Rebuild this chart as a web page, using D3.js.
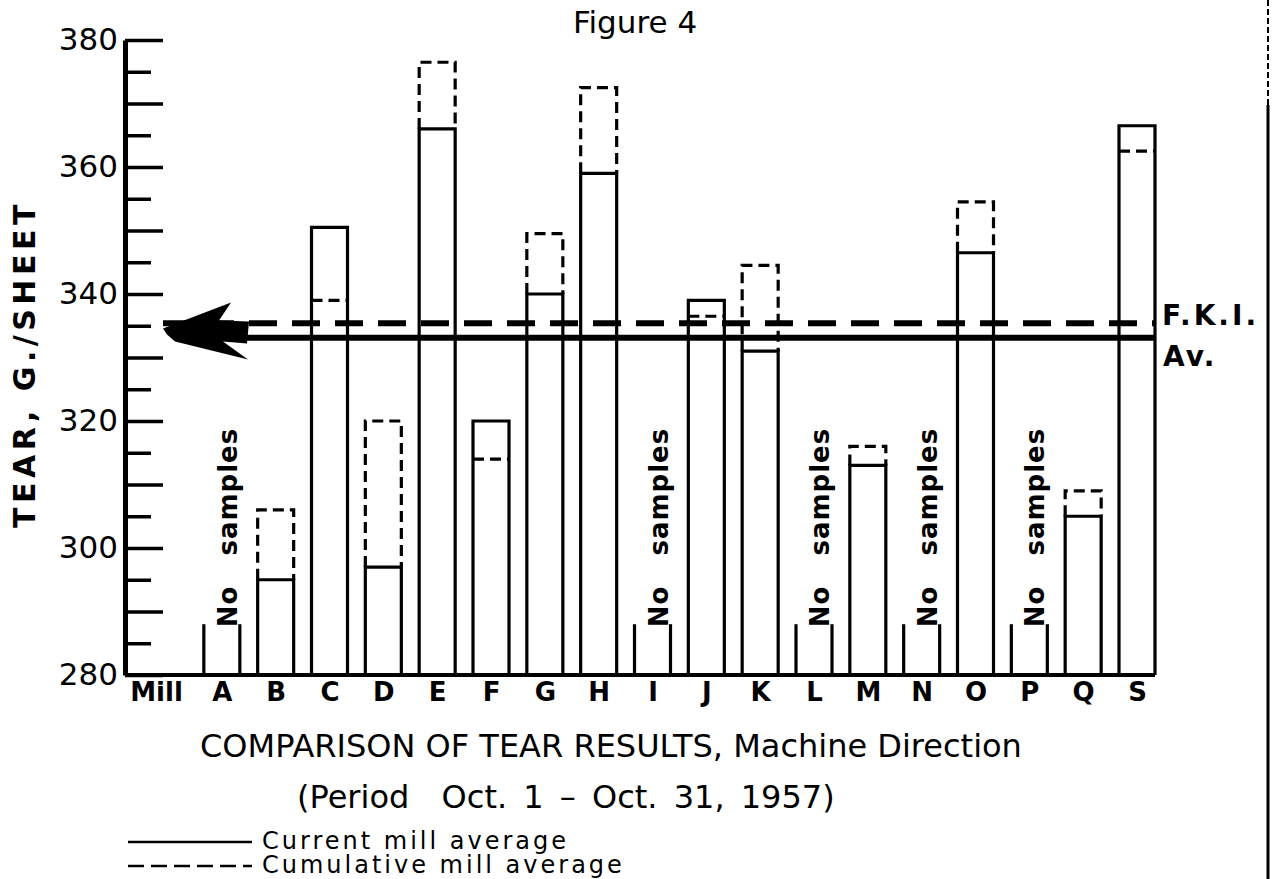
<!DOCTYPE html>
<html>
<head>
<meta charset="utf-8">
<script src="https://cdn.jsdelivr.net/npm/d3@7"></script>
<style>
  body { margin: 0; background: #fff; }
  svg { display: block; font-family: "DejaVu Sans", sans-serif; }
  text { fill: #000; }
</style>
</head>
<body>
<svg id="chart"></svg>
<script>
var mills = ["Mill","A","B","C","D","E","F","G","H","I","J","K","L","M","N","O","P","Q","S"];
var currentAvg    = [null, null, 295, 350.5, 297, 366, 320, 340, 359, null, 339, 331, null, 313, null, 346.5, null, 305, 366.5];
var cumulativeAvg = [null, null, 306, 339, 320, 376.5, 314, 349.5, 372.5, null, 336.5, 344.5, null, 316, null, 354.5, null, 309, 362.5];
var noSampleMills = ["A","I","L","N","P"];
var stubValue = 288;
var fkiNames  = ["cumulative","current"];
var fkiValues = [335.4, 333.1];
var yLabelTicks = [280,300,320,340,360,380];
var yMidTicks   = [290,310,330,350,370];
var yMinorTicks = [285,295,305,315,325,335,345,355,365,375];

var width=1273;
var height=879;
var axisX=125;
var axisRight=1155;
var barW=36;

var svg=d3.select("#chart")
  .attr("width",width)
  .attr("height",height);

// scales
var yScale=d3.scaleLinear()
             .domain([280,380])
             .range([675,40]);

var xScale=d3.scalePoint()
             .domain(mills)
             .range([168,1137]);

var base=yScale(280);

// Y axis: labelled ticks, unlabelled 10s, short 5s
var yAxis=d3.axisLeft(yScale)
            .tickValues(yLabelTicks)
            .tickSizeInner(-38)
            .tickSizeOuter(0)
            .tickPadding(7)
            .tickFormat(d3.format("d"));

var gy=svg.append("g")
    .attr("transform","translate("+axisX+",0)")
    .call(yAxis);
gy.select(".domain").attr("stroke-width",5);
gy.selectAll(".tick line").attr("stroke-width",3.5);
gy.selectAll(".tick text")
    .style("font-size","31px")
    .style("font-family","DejaVu Sans")
    .attr("fill","#000");

[[yMidTicks,-38],[yMinorTicks,-26]].forEach(function(t){
  var g=svg.append("g")
      .attr("transform","translate("+axisX+",0)")
      .call(d3.axisLeft(yScale).tickValues(t[0]).tickSize(t[1]).tickFormat(""));
  g.select(".domain").remove();
  g.selectAll(".tick line").attr("stroke-width",3.5);
});

// baseline
svg.append("line")
    .attr("x1",axisX).attr("x2",axisRight)
    .attr("y1",base).attr("y2",base)
    .attr("stroke","#000")
    .attr("stroke-width",4);

// category labels
var gx=svg.append("g")
    .attr("transform","translate(0,"+base+")")
    .call(d3.axisBottom(xScale).tickSize(0).tickPadding(8));
gx.select(".domain").remove();
gx.selectAll(".tick text")
    .style("font-size","26px")
    .style("font-family","DejaVu Sans")
    .style("font-weight","bold")
    .attr("fill","#000")
    .attr("dx",function(d){ return d==="Mill" ? -12 : 0; });

var rows=mills.map(function(m,i){
  return {mill:m, cur:currentAvg[i], cum:cumulativeAvg[i]};
}).filter(function(d){ return d.cur!=null; });

// current average bars (solid)
svg.append("g").selectAll("path")
  .data(rows)
  .enter()
  .append("path")
    .attr("d",function(d){
      var x=xScale(d.mill);
      return "M"+(x-barW/2)+","+base+"V"+yScale(d.cur)+"H"+(x+barW/2)+"V"+base;
    })
    .attr("fill","none")
    .attr("stroke","#000")
    .attr("stroke-width",3.2);

// cumulative average (dashed): extension above or a line inside the bar
svg.append("g").selectAll("path")
  .data(rows)
  .enter()
  .append("path")
    .attr("d",function(d){
      var x=xScale(d.mill), l=x-barW/2, r=x+barW/2;
      if(d.cum>d.cur) return "M"+l+","+yScale(d.cur)+"V"+yScale(d.cum)+"H"+r+"V"+yScale(d.cur);
      return "M"+l+","+yScale(d.cum)+"H"+r;
    })
    .attr("fill","none")
    .attr("stroke","#000")
    .attr("stroke-width",3.2)
    .attr("stroke-dasharray","11,6");

// "No samples" stubs
var stubs=svg.append("g").selectAll("g")
  .data(noSampleMills)
  .enter()
  .append("g");
[-1,1].forEach(function(s){
  stubs.append("line")
      .attr("x1",function(d){ return xScale(d)+s*barW/2; })
      .attr("x2",function(d){ return xScale(d)+s*barW/2; })
      .attr("y1",base)
      .attr("y2",yScale(stubValue))
      .attr("stroke","#000")
      .attr("stroke-width",3.2);
});
var ns=stubs.append("text")
    .attr("transform",function(d){ return "translate("+(xScale(d)+15)+","+(yScale(stubValue)+3)+") rotate(-90)"; })
    .style("font-size","26px")
    .style("font-weight","bold")
    .style("letter-spacing","1px")
    .text("No");
ns.append("tspan").attr("dx",30).text("samples");

// F.K.I. average lines
var avgY=fkiValues.map(function(v){ return yScale(v); });
svg.append("g").selectAll("line")
  .data(fkiNames)
  .enter()
  .append("line")
    .attr("x1",function(d){ return d==="cumulative" ? 163 : 175; })
    .attr("x2",axisRight)
    .attr("y1",function(d,i){ return avgY[i]; })
    .attr("y2",function(d,i){ return avgY[i]; })
    .attr("stroke","#000")
    .attr("stroke-width",6)
    .attr("stroke-dasharray",function(d){ return d==="cumulative" ? "28,15" : null; });

// hand-drawn arrowhead at the left end
var tx=163, ty=(avgY[0]+avgY[1])/2-2;
svg.append("path")
    .attr("d","M"+tx+","+ty+
      "L"+(tx+68)+","+(ty-26)+
      "L"+(tx+56)+","+(ty-8)+
      "L"+(tx+86)+","+(ty-7)+
      "L"+(tx+84)+","+(ty+15)+
      "L"+(tx+60)+","+(ty+13)+
      "L"+(tx+85)+","+(ty+31)+
      "L"+(tx+12)+","+(ty+13)+
      "L"+(tx+4)+","+(ty+6)+"Z")
    .attr("fill","#000");

svg.append("text")
    .attr("x",1162).attr("y",avgY[0]+2)
    .style("font-size","28px").style("font-weight","bold").style("letter-spacing","3px")
    .text("F.K.I.");
svg.append("text")
    .attr("x",1163).attr("y",avgY[1]+28)
    .style("font-size","28px").style("font-weight","bold").style("letter-spacing","2px")
    .text("Av.");

// titles
svg.append("text")
    .attr("x",635).attr("y",33)
    .style("text-anchor","middle")
    .style("font-size","31px")
    .text("Figure 4");

svg.append("text")
    .attr("transform","translate(35,364) rotate(-90)")
    .style("text-anchor","middle")
    .style("font-size","30px")
    .style("font-weight","bold")
    .style("letter-spacing","4.5px")
    .text("TEAR, G./SHEET");

svg.append("text")
    .attr("x",200).attr("y",757)
    .style("font-size","32px")
    .text("COMPARISON OF TEAR RESULTS, Machine Direction");

svg.append("text")
    .attr("x",297).attr("y",808)
    .style("font-size","32px")
    .style("word-spacing","6px")
    .style("white-space","pre")
    .text("(Period  Oct. 1 \u2013 Oct. 31, 1957)");

// legend
svg.append("line")
    .attr("x1",128).attr("x2",252).attr("y1",842).attr("y2",842)
    .attr("stroke","#000").attr("stroke-width",2.5);
svg.append("text")
    .attr("x",262).attr("y",849)
    .style("font-size","24px").style("letter-spacing","3px")
    .text("Current mill average");
svg.append("line")
    .attr("x1",128).attr("x2",252).attr("y1",866).attr("y2",866)
    .attr("stroke","#000").attr("stroke-width",2.5)
    .attr("stroke-dasharray","16,7");
svg.append("text")
    .attr("x",262).attr("y",873)
    .style("font-size","24px").style("letter-spacing","3px")
    .text("Cumulative mill average");

// page edge line on the right
svg.append("line")
    .attr("x1",1268).attr("x2",1268).attr("y1",0).attr("y2",105)
    .attr("stroke","#000").attr("stroke-width",2).attr("stroke-dasharray","6,3");
svg.append("line")
    .attr("x1",1268).attr("x2",1268).attr("y1",105).attr("y2",height)
    .attr("stroke","#000").attr("stroke-width",3);
</script>
</body>
</html>
